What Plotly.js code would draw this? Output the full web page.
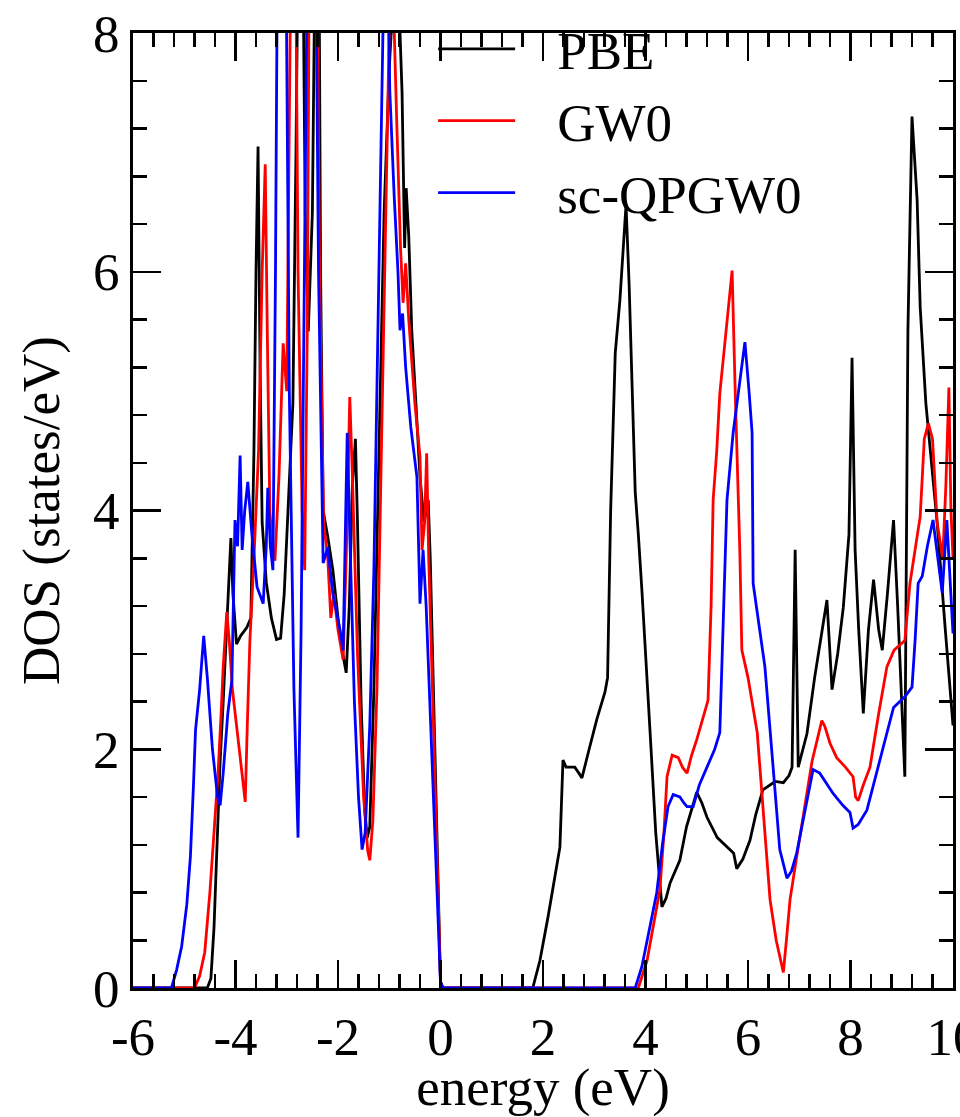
<!DOCTYPE html>
<html>
<head>
<meta charset="utf-8">
<script src="https://cdn.plot.ly/plotly-3.0.1.min.js"></script>
<style>html,body{margin:0;padding:0;background:#fff;}#plot{width:960px;height:1117px;}</style>
</head>
<body>
<div id="plot"></div>
<script>
// ---- data ----
const pbeX = [-6,-4.55,-4.48,-4.42,-4.36,-4.3,-4.24,-4.18,-4.12,-4.09,-4.05,-3.98,-3.9,-3.78,-3.7,-3.64,-3.6,-3.56,-3.52,-3.48,-3.4,-3.3,-3.2,-3.12,-3.05,-2.95,-2.88,-2.82,-2.76,-2.7,-2.64,-2.58,-2.5,-2.44,-2.38,-2.34,-2.29,-2.2,-2.1,-2.0,-1.92,-1.84,-1.78,-1.72,-1.66,-1.62,-1.55,-1.48,-1.43,-1.38,-1.3,-1.2,-1.1,-1.0,-0.9,-0.83,-0.75,-0.7,-0.67,-0.62,-0.56,-0.48,-0.4,-0.32,-0.24,-0.2,-0.12,-0.05,0.0,0.05,
  1.8,1.94,2.1,2.33,2.39,2.45,2.62,2.7,2.76,2.9,3.05,3.21,3.26,3.32,3.41,3.5,3.62,3.68,3.74,3.8,3.86,3.93,4.09,4.2,4.32,4.4,4.48,4.67,4.8,5.0,5.1,5.2,5.4,5.65,5.72,5.78,5.9,6.04,6.15,6.29,6.53,6.69,6.8,6.86,6.92,6.98,7.15,7.3,7.54,7.64,7.75,7.86,7.97,8.03,8.09,8.16,8.25,8.35,8.45,8.55,8.62,8.72,8.84,8.92,9.0,9.06,9.12,9.2,9.3,9.36,9.47,9.69,9.85,10];
const pbeY = [0,0,0.08,0.5,1.2,1.9,2.4,3.0,3.55,3.77,3.3,2.88,2.95,3.02,3.1,4.5,6.0,7.05,5.2,3.9,3.4,3.1,2.92,2.93,3.3,4.3,4.9,7.0,9.5,9.5,6.5,5.5,6.5,9.0,9.5,6.0,4.0,3.78,3.5,3.1,2.83,2.64,3.2,4.2,4.6,3.9,2.4,1.5,1.26,1.35,2.5,4.5,6.5,7.7,8.5,8.5,7.5,6.2,6.7,6.3,5.5,4.9,4.28,3.9,4.09,3.6,2.2,1.0,0.05,0,
  0,0.23,0.6,1.18,1.91,1.85,1.85,1.8,1.76,2.0,2.25,2.48,2.6,4.0,5.32,5.76,6.56,5.9,5.0,4.15,3.8,3.33,2.14,1.3,0.68,0.75,0.88,1.07,1.35,1.64,1.55,1.43,1.26,1.16,1.13,1.0,1.08,1.24,1.45,1.66,1.73,1.72,1.78,1.85,3.67,1.85,2.13,2.6,3.25,2.5,2.8,3.19,3.8,5.28,3.67,3.0,2.3,3.0,3.42,3.0,2.83,3.3,3.92,3.2,2.41,1.77,5.5,7.3,6.6,5.7,4.9,3.9,3.0,2.2];

const gw0X = [-6,-4.8,-4.7,-4.6,-4.5,-4.44,-4.38,-4.34,-4.28,-4.24,-4.17,-4.12,-4.06,-3.95,-3.85,-3.81,-3.77,-3.72,-3.64,-3.55,-3.48,-3.42,-3.38,-3.33,-3.28,-3.23,-3.15,-3.07,-3.0,-2.94,-2.9,-2.84,-2.78,-2.7,-2.65,-2.6,-2.55,-2.42,-2.36,-2.28,-2.2,-2.14,-2.08,-2.0,-1.9,-1.84,-1.77,-1.72,-1.62,-1.5,-1.42,-1.38,-1.32,-1.24,-1.15,-1.05,-0.98,-0.94,-0.89,-0.85,-0.78,-0.73,-0.68,-0.62,-0.5,-0.4,-0.36,-0.31,-0.27,-0.23,-0.15,-0.07,0,0.05,
  3.86,4.03,4.15,4.28,4.36,4.42,4.52,4.64,4.72,4.81,4.9,5.0,5.22,5.28,5.32,5.39,5.45,5.55,5.69,5.75,5.84,5.88,6.0,6.18,6.3,6.43,6.55,6.69,6.76,6.82,6.95,7.07,7.25,7.44,7.5,7.6,7.73,7.9,8.05,8.1,8.15,8.25,8.38,8.55,8.71,8.85,8.93,9.06,9.16,9.26,9.36,9.44,9.52,9.6,9.69,9.8,9.86,9.92,9.96,10];
const gw0Y = [0,0,0.1,0.3,0.8,1.16,1.5,1.8,2.3,2.69,3.15,2.9,2.5,2.1,1.7,1.56,2.2,2.9,3.6,4.5,6.0,6.9,5.5,4.0,3.7,3.58,4.3,5.4,5.0,7.0,9.5,9.5,6.0,4.0,3.5,5.5,9.5,9.5,6.0,3.9,3.6,3.1,3.3,3.0,2.75,3.6,4.95,4.3,2.8,1.6,1.15,1.07,1.4,2.5,4.5,6.8,8.5,8.6,7.75,7.2,6.2,5.74,6.07,5.6,4.9,4.45,3.67,3.9,4.48,3.6,2.4,1.1,0.05,0,
  0,0.23,0.5,0.82,1.3,1.77,1.95,1.93,1.85,1.8,1.95,2.08,2.41,3.2,4.09,4.5,4.98,5.4,6.01,5.0,3.67,2.83,2.6,2.14,1.5,0.74,0.4,0.13,0.45,0.74,1.1,1.43,1.9,2.24,2.19,2.05,1.93,1.85,1.77,1.6,1.57,1.7,1.85,2.3,2.69,2.83,2.86,2.91,3.39,3.67,3.95,4.6,4.73,4.6,3.9,3.6,4.2,5.03,4.0,3.6];

const scX = [-6,-5.25,-5.15,-5.05,-4.95,-4.88,-4.82,-4.78,-4.7,-4.62,-4.55,-4.45,-4.35,-4.3,-4.24,-4.15,-4.07,-4.01,-3.96,-3.91,-3.87,-3.82,-3.76,-3.68,-3.58,-3.46,-3.4,-3.37,-3.32,-3.27,-3.22,-3.17,-3.03,-2.95,-2.86,-2.78,-2.72,-2.65,-2.58,-2.45,-2.38,-2.29,-2.2,-2.1,-1.96,-1.9,-1.86,-1.82,-1.77,-1.68,-1.6,-1.53,-1.47,-1.38,-1.3,-1.22,-1.15,-1.1,-1.03,-0.99,-0.9,-0.83,-0.79,-0.74,-0.68,-0.58,-0.46,-0.4,-0.34,-0.28,-0.2,-0.1,0,0.05,
  3.8,3.93,4.08,4.22,4.33,4.44,4.54,4.67,4.75,4.81,4.93,5.05,5.2,5.35,5.45,5.51,5.59,5.71,5.82,5.94,6.02,6.08,6.1,6.2,6.33,6.49,6.62,6.76,6.85,6.95,7.1,7.27,7.4,7.53,7.66,7.85,7.99,8.05,8.15,8.32,8.45,8.58,8.72,8.84,9.06,9.2,9.26,9.32,9.4,9.5,9.61,9.7,9.79,9.88,9.94,10];
const scY = [0,0,0.15,0.35,0.7,1.1,1.7,2.16,2.5,2.95,2.6,2.0,1.6,1.53,1.8,2.3,2.58,3.92,3.7,4.46,3.67,4.0,4.24,3.8,3.36,3.22,3.7,4.19,3.7,3.5,6.0,9.5,9.5,5.0,2.5,1.26,3.0,6.5,9.5,9.5,6.0,3.56,3.69,3.3,3.0,2.83,3.8,4.65,3.8,2.4,1.6,1.16,1.3,2.2,3.5,5.5,7.5,8.6,8.6,7.52,6.6,6.0,5.51,5.65,5.2,4.7,4.28,3.22,3.67,3.2,2.3,1.1,0.05,0,
  0,0.18,0.5,0.8,1.2,1.52,1.62,1.6,1.55,1.52,1.52,1.7,1.85,2.0,2.14,2.97,4.09,4.65,5.0,5.41,5.0,4.65,3.39,3.1,2.69,1.85,1.16,0.92,0.98,1.13,1.45,1.83,1.8,1.72,1.63,1.53,1.47,1.34,1.37,1.49,1.7,1.93,2.15,2.35,2.44,2.52,2.91,3.39,3.45,3.7,3.92,3.6,3.31,3.92,3.4,2.97];

const seriesNames = ['PBE', 'GW0', 'sc-QPGW0'];
const seriesColors = ['#000000', '#ff0000', '#0000ff'];
const xTickVals = [-6,-4,-2,0,2,4,6,8,10];
const xTickText = ['-6','-4','-2','0','2','4','6','8','10'];
const yTickVals = [0,2,4,6,8];
const yTickText = ['0','2','4','6','8'];

const FONT = '"Liberation Serif", "Times New Roman", serif';
const xs = [pbeX, gw0X, scX];
const ys = [pbeY, gw0Y, scY];
const GAP = '\u00a0\u00a0\u2009';

const traces = seriesNames.map((n, i) => ({
  x: xs[i], y: ys[i], name: GAP + n, type: 'scatter', mode: 'lines',
  line: {color: seriesColors[i], width: 2.8}
}));

const axisCommon = {
  showgrid: false, zeroline: false, showline: true, linecolor: '#000', linewidth: 3,
  mirror: 'ticks', ticks: 'inside', ticklen: 28, tickwidth: 2.5, tickcolor: '#000',
  tickfont: {family: FONT, size: 53, color: '#000'}, tickmode: 'array', layer: 'above traces'
};

const layout = {
  width: 960, height: 1117,
  margin: {l: 133, r: 7, t: 33, b: 129},
  showlegend: true,
  legend: {x: 0.366, y: 0.908, xanchor: 'left', yanchor: 'middle',
    bgcolor: 'rgba(0,0,0,0)', itemwidth: 77, font: {family: FONT, size: 53, color: '#000'}},
  xaxis: Object.assign({}, axisCommon, {
    range: [-6, 10], tickvals: xTickVals, ticktext: xTickText,
    minor: {dtick: 0.4, ticks: 'inside', ticklen: 14, tickwidth: 2.5, tickcolor: '#000'},
    ticklabeloverflow: 'allow',
    title: {text: 'energy (eV)', font: {family: FONT, size: 53, color: '#000'}, standoff: 15}
  }),
  yaxis: Object.assign({}, axisCommon, {
    range: [0, 8], tickvals: yTickVals, ticktext: yTickText,
    minor: {dtick: 0.4, ticks: 'inside', ticklen: 14, tickwidth: 2.5, tickcolor: '#000'},
    title: {text: 'DOS (states/eV)', font: {family: FONT, size: 53, color: '#000'}, standoff: 17}
  })
};

function raiseXAxisLayer(gd) {
  // keep Plotly's own x-axis tick layer painted on top of everything else
  const svgs = gd.querySelectorAll('svg.main-svg');
  const target = svgs.length > 1 ? svgs[1] : svgs[0];
  const layer = gd.querySelector('g.xaxislayer-above');
  if (layer && target) target.appendChild(layer);
}

Plotly.newPlot('plot', traces, layout, {staticPlot: true, displayModeBar: false}).then(raiseXAxisLayer);
</script>
</body>
</html>
